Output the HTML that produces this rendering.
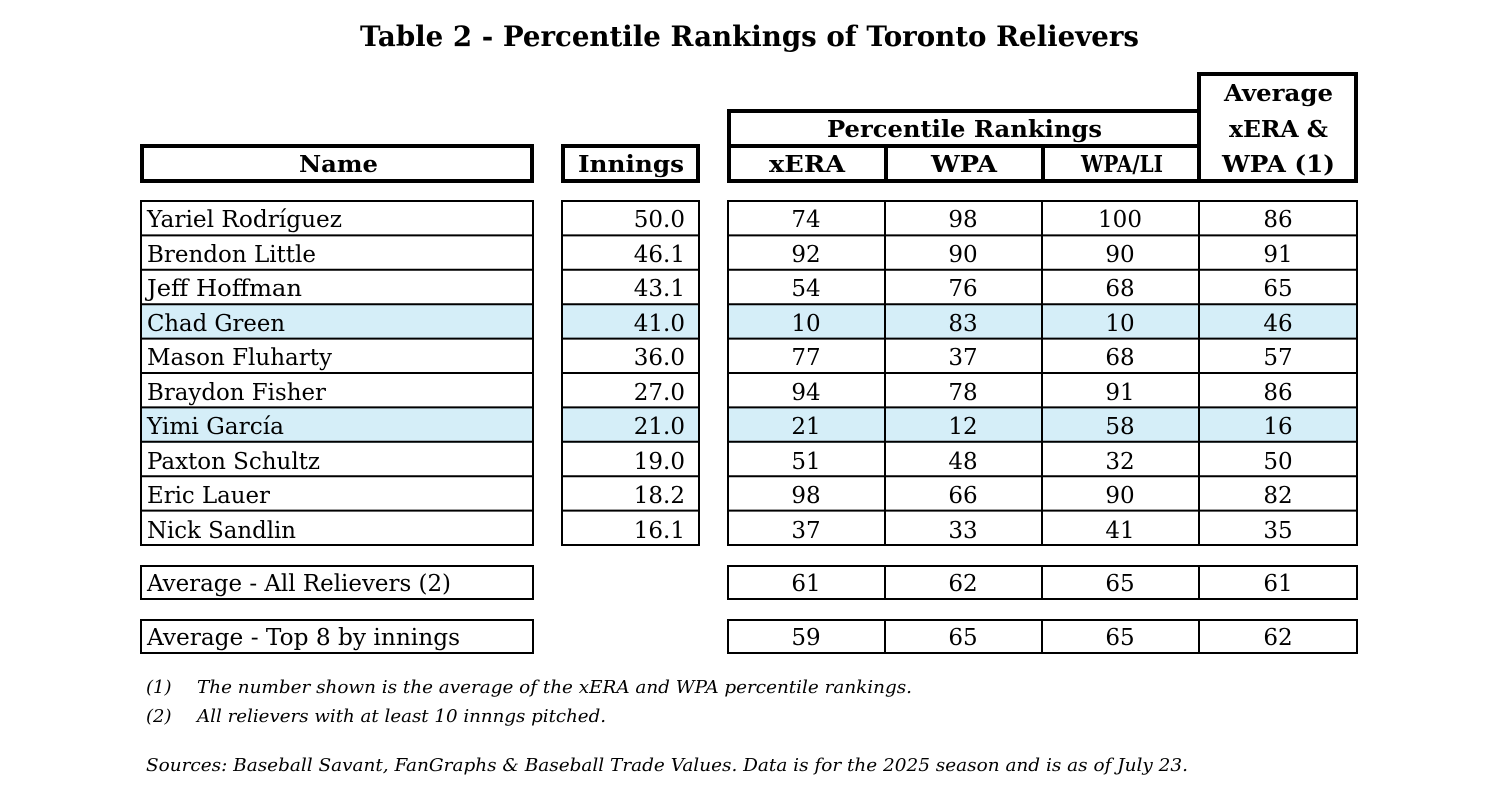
<!DOCTYPE html>
<html><head><meta charset="utf-8"><style>
html,body{margin:0;padding:0;background:#fff;}
svg{display:block;}
text{font-family:"DejaVu Serif","Liberation Serif",serif;fill:#000;}
</style></head><body>
<svg width="1500" height="796" viewBox="0 0 1500 796" xmlns="http://www.w3.org/2000/svg">
<text x="360" y="46" font-size="28" font-weight="bold" textLength="779" lengthAdjust="spacingAndGlyphs">Table 2 - Percentile Rankings of Toronto Relievers</text>

<g fill="none" stroke="#000" stroke-width="4">
<rect x="142" y="146" width="390" height="35"/>
<rect x="563" y="146" width="135" height="35"/>
<rect x="729" y="111" width="470" height="70"/>
<line x1="729" y1="146" x2="1199" y2="146"/>
<line x1="886" y1="146" x2="886" y2="181"/>
<line x1="1043" y1="146" x2="1043" y2="181"/>
<rect x="1199" y="74" width="157" height="107"/>
</g>
<g font-size="23" font-weight="bold" lengthAdjust="spacingAndGlyphs">
<text x="299" y="172" textLength="79" lengthAdjust="spacingAndGlyphs">Name</text>
<text x="578" y="172" textLength="106" lengthAdjust="spacingAndGlyphs">Innings</text>
<text x="827" y="137" textLength="275" lengthAdjust="spacingAndGlyphs">Percentile Rankings</text>
<text x="769" y="172" textLength="76" lengthAdjust="spacingAndGlyphs">xERA</text>
<text x="931" y="172" textLength="66" lengthAdjust="spacingAndGlyphs">WPA</text>
<text x="1081" y="172" textLength="82" lengthAdjust="spacingAndGlyphs">WPA/LI</text>
<text x="1224" y="101" textLength="109" lengthAdjust="spacingAndGlyphs">Average</text>
<text x="1229" y="137" textLength="99" lengthAdjust="spacingAndGlyphs">xERA &amp;</text>
<text x="1222" y="172" textLength="113" lengthAdjust="spacingAndGlyphs">WPA (1)</text>
</g>

<g fill="#d5eef8">
<rect x="141" y="304" width="392" height="35"/><rect x="562" y="304" width="137" height="35"/><rect x="728" y="304" width="629" height="35"/>
<rect x="141" y="408" width="392" height="35"/><rect x="562" y="408" width="137" height="35"/><rect x="728" y="408" width="629" height="35"/>
</g>

<g fill="none" stroke="#000" stroke-width="2">
<rect x="141" y="201" width="392" height="344"/>
<rect x="562" y="201" width="137" height="344"/>
<rect x="728" y="201" width="629" height="344"/>
<line x1="885" y1="201" x2="885" y2="545"/>
<line x1="1042" y1="201" x2="1042" y2="545"/>
<line x1="1199" y1="201" x2="1199" y2="545"/>
<path d="M141 235.4H533M141 269.8H533M141 304.2H533M141 338.6H533M141 373H533M141 407.4H533M141 441.8H533M141 476.2H533M141 510.6H533"/>
<path d="M562 235.4H699M562 269.8H699M562 304.2H699M562 338.6H699M562 373H699M562 407.4H699M562 441.8H699M562 476.2H699M562 510.6H699"/>
<path d="M728 235.4H1357M728 269.8H1357M728 304.2H1357M728 338.6H1357M728 373H1357M728 407.4H1357M728 441.8H1357M728 476.2H1357M728 510.6H1357"/>
<rect x="141" y="566" width="392" height="33"/>
<rect x="728" y="566" width="629" height="33"/>
<line x1="885" y1="566" x2="885" y2="599"/><line x1="1042" y1="566" x2="1042" y2="599"/><line x1="1199" y1="566" x2="1199" y2="599"/>
<rect x="141" y="620" width="392" height="33"/>
<rect x="728" y="620" width="629" height="33"/>
<line x1="885" y1="620" x2="885" y2="653"/><line x1="1042" y1="620" x2="1042" y2="653"/><line x1="1199" y1="620" x2="1199" y2="653"/>
</g>

<g font-size="23">
<text x="147" y="227" textLength="195" lengthAdjust="spacingAndGlyphs">Yariel Rodríguez</text>
<text x="147" y="262" textLength="169" lengthAdjust="spacingAndGlyphs">Brendon Little</text>
<text x="147" y="296" textLength="155" lengthAdjust="spacingAndGlyphs">Jeff Hoffman</text>
<text x="147" y="331" textLength="138" lengthAdjust="spacingAndGlyphs">Chad Green</text>
<text x="147" y="365" textLength="185" lengthAdjust="spacingAndGlyphs">Mason Fluharty</text>
<text x="147" y="400" textLength="179" lengthAdjust="spacingAndGlyphs">Braydon Fisher</text>
<text x="147" y="434" textLength="137" lengthAdjust="spacingAndGlyphs">Yimi García</text>
<text x="147" y="469" textLength="173" lengthAdjust="spacingAndGlyphs">Paxton Schultz</text>
<text x="147" y="503" textLength="123" lengthAdjust="spacingAndGlyphs">Eric Lauer</text>
<text x="147" y="538" textLength="149" lengthAdjust="spacingAndGlyphs">Nick Sandlin</text>
<text x="147" y="591" textLength="304" lengthAdjust="spacingAndGlyphs">Average - All Relievers (2)</text>
<text x="147" y="645" textLength="313" lengthAdjust="spacingAndGlyphs">Average - Top 8 by innings</text>
</g>
<g font-size="23" text-anchor="end">
<text x="685" y="227">50.0</text><text x="685" y="262">46.1</text><text x="685" y="296">43.1</text><text x="685" y="331">41.0</text><text x="685" y="365">36.0</text><text x="685" y="400">27.0</text><text x="685" y="434">21.0</text><text x="685" y="469">19.0</text><text x="685" y="503">18.2</text><text x="685" y="538">16.1</text>
</g>
<g font-size="23" text-anchor="middle">
<text x="806" y="227">74</text><text x="963" y="227">98</text><text x="1120" y="227">100</text><text x="1278" y="227">86</text>
<text x="806" y="262">92</text><text x="963" y="262">90</text><text x="1120" y="262">90</text><text x="1278" y="262">91</text>
<text x="806" y="296">54</text><text x="963" y="296">76</text><text x="1120" y="296">68</text><text x="1278" y="296">65</text>
<text x="806" y="331">10</text><text x="963" y="331">83</text><text x="1120" y="331">10</text><text x="1278" y="331">46</text>
<text x="806" y="365">77</text><text x="963" y="365">37</text><text x="1120" y="365">68</text><text x="1278" y="365">57</text>
<text x="806" y="400">94</text><text x="963" y="400">78</text><text x="1120" y="400">91</text><text x="1278" y="400">86</text>
<text x="806" y="434">21</text><text x="963" y="434">12</text><text x="1120" y="434">58</text><text x="1278" y="434">16</text>
<text x="806" y="469">51</text><text x="963" y="469">48</text><text x="1120" y="469">32</text><text x="1278" y="469">50</text>
<text x="806" y="503">98</text><text x="963" y="503">66</text><text x="1120" y="503">90</text><text x="1278" y="503">82</text>
<text x="806" y="538">37</text><text x="963" y="538">33</text><text x="1120" y="538">41</text><text x="1278" y="538">35</text>
<text x="806" y="591">61</text><text x="963" y="591">62</text><text x="1120" y="591">65</text><text x="1278" y="591">61</text>
<text x="806" y="645">59</text><text x="963" y="645">65</text><text x="1120" y="645">65</text><text x="1278" y="645">62</text>
</g>

<g font-size="18" font-style="italic">
<text x="146" y="693">(1)</text>
<text x="197" y="693" textLength="715" lengthAdjust="spacingAndGlyphs">The number shown is the average of the xERA and WPA percentile rankings.</text>
<text x="146" y="722">(2)</text>
<text x="197" y="722" textLength="409" lengthAdjust="spacingAndGlyphs">All relievers with at least 10 innngs pitched.</text>
<text x="146" y="771" textLength="1042" lengthAdjust="spacingAndGlyphs">Sources: Baseball Savant, FanGraphs &amp; Baseball Trade Values. Data is for the 2025 season and is as of July 23.</text>
</g>
</svg>
</body></html>
